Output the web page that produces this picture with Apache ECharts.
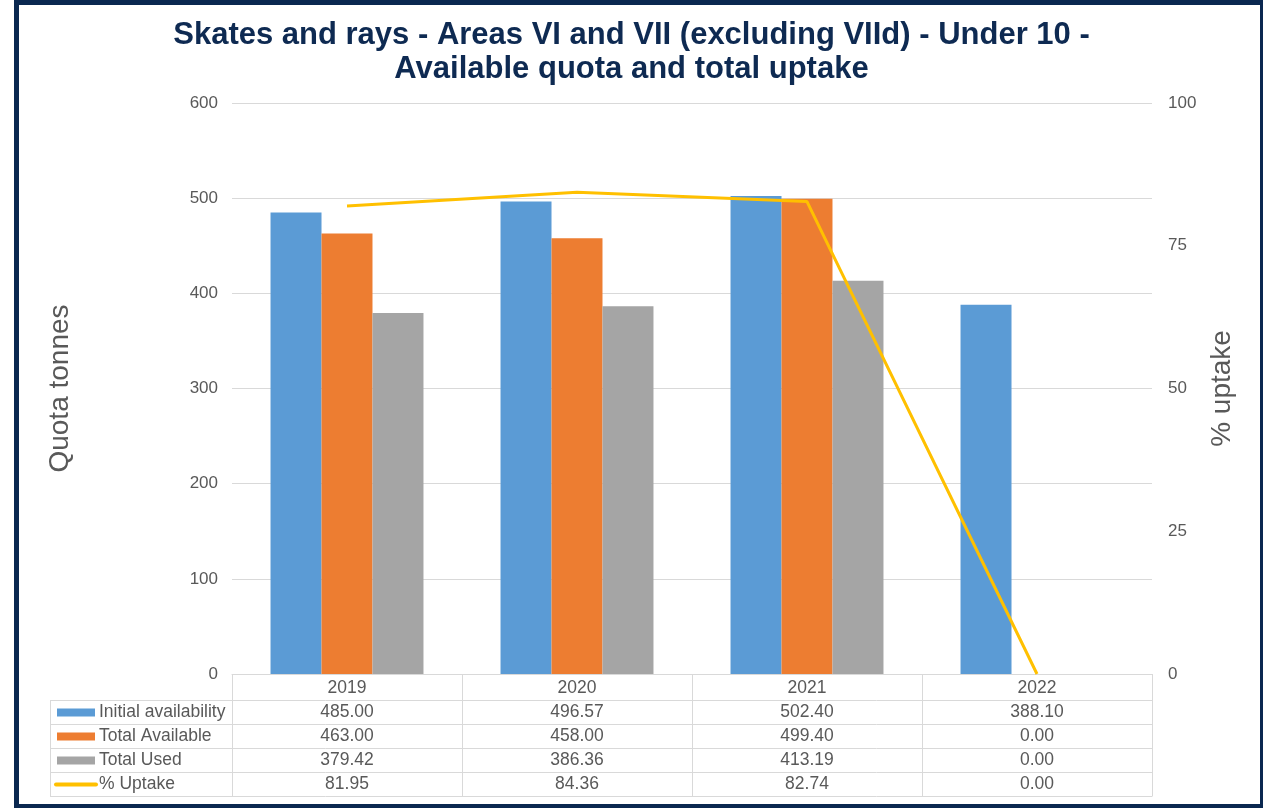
<!DOCTYPE html>
<html><head><meta charset="utf-8">
<script src="https://cdn.jsdelivr.net/npm/echarts@6/dist/echarts.min.js"></script>
<style>html,body{margin:0;padding:0;background:#fff}#c{width:1263px;height:808px}</style>
</head><body><div id="c"></div>
<script>
const categories = ['2019', '2020', '2021', '2022'];
const initialAvailability = [485.00, 496.57, 502.40, 388.10];
const totalAvailable = [463.00, 458.00, 499.40, 0.00];
const totalUsed = [379.42, 386.36, 413.19, 0.00];
const uptakePct = [81.95, 84.36, 82.74, 0.00];
const leftTicks = [0, 100, 200, 300, 400, 500, 600];
const rightTicks = [0, 25, 50, 75, 100];
const seriesNames = ['Initial availability', 'Total Available', 'Total Used', '% Uptake'];

const COLORS = ['#5B9BD5', '#ED7D31', '#A5A5A5', '#FFC000'];
const FONT = "'Liberation Sans', Arial, sans-serif";
const TXT = '#595959';
const GRID_LINE = '#D9D9D9';
const NAVY = '#0A2850';
const GRID = { left: 232, right: 111, top: 103, bottom: 134 };

const chart = echarts.init(document.getElementById('c'), null, { renderer: 'canvas' });

const option = {
  animation: false,
  backgroundColor: '#fff',
  title: {
    text: 'Skates and rays - Areas VI and VII (excluding VIId) - Under 10 -\nAvailable quota and total uptake',
    left: 'center', top: 13,
    textStyle: { fontFamily: FONT, fontSize: 31, fontWeight: 'bold', color: '#0E2A52', lineHeight: 34 }
  },
  grid: { left: GRID.left, right: GRID.right, top: GRID.top, bottom: GRID.bottom, containLabel: false },
  xAxis: {
    type: 'category', data: categories,
    axisLine: { show: true, lineStyle: { color: GRID_LINE, width: 1 } },
    axisTick: { show: false },
    axisLabel: { show: false }
  },
  yAxis: [
    {
      type: 'value', min: leftTicks[0], max: leftTicks[leftTicks.length - 1], interval: leftTicks[1] - leftTicks[0],
      name: 'Quota tonnes', nameLocation: 'middle', nameGap: 158, nameRotate: 90,
      nameTextStyle: { fontFamily: FONT, fontSize: 28, color: TXT },
      axisLine: { show: false }, axisTick: { show: false },
      axisLabel: { fontFamily: FONT, fontSize: 17, color: TXT, margin: 14 },
      splitLine: { lineStyle: { color: GRID_LINE, width: 1 } }
    },
    {
      type: 'value', min: rightTicks[0], max: rightTicks[rightTicks.length - 1], interval: rightTicks[1] - rightTicks[0],
      name: '% uptake', nameLocation: 'middle', nameGap: 56, nameRotate: 90,
      nameTextStyle: { fontFamily: FONT, fontSize: 28, color: TXT },
      axisLine: { show: false }, axisTick: { show: false },
      axisLabel: { fontFamily: FONT, fontSize: 17, color: TXT, margin: 16 },
      splitLine: { show: false }
    }
  ],
  series: [
    { name: seriesNames[0], type: 'bar', data: initialAvailability, itemStyle: { color: COLORS[0] }, barGap: '0%', barCategoryGap: '33.5%' },
    { name: seriesNames[1], type: 'bar', data: totalAvailable, itemStyle: { color: COLORS[1] }, barGap: '0%', barCategoryGap: '33.5%' },
    { name: seriesNames[2], type: 'bar', data: totalUsed, itemStyle: { color: COLORS[2] }, barGap: '0%', barCategoryGap: '33.5%' },
    { name: seriesNames[3], type: 'line', yAxisIndex: 1, data: uptakePct, showSymbol: false, symbol: 'none',
      lineStyle: { color: COLORS[3], width: 3 }, itemStyle: { color: COLORS[3] }, z: 5 }
  ]
};
chart.setOption(option);

// Build the data table beneath the plot from the axis scale
function buildTable() {
  const W = chart.getWidth(), H = chart.getHeight();
  const centers = categories.map((c) => chart.convertToPixel({ xAxisIndex: 0 }, c));
  const band = centers.length > 1 ? centers[1] - centers[0] : (W - GRID.left - GRID.right);
  const x0 = centers[0] - band / 2;
  const xEnd = centers[centers.length - 1] + band / 2;
  const yTop = chart.convertToPixel({ yAxisIndex: 0 }, 0);
  const headerH = 26, rowH = 24;
  const legendLeft = 50;
  const els = [];
  const line = (x1, y1, x2, y2) => els.push({
    type: 'line', silent: true, z: 10,
    shape: { x1: x1, y1: y1, x2: x2, y2: y2 },
    style: { stroke: GRID_LINE, lineWidth: 1 }
  });
  const yHeadBot = Math.round(yTop + headerH) + 0.5;
  const yBot = yHeadBot + rowH * 4;
  for (let i = 0; i <= categories.length; i++) {
    const x = Math.round(x0 + i * band) + 0.5;
    line(x, yTop, x, yBot);
  }
  line(legendLeft + 0.5, yHeadBot, legendLeft + 0.5, yBot);
  for (let r = 0; r <= 4; r++) {
    const y = yHeadBot + r * rowH;
    line(legendLeft, y, xEnd, y);
  }
  const txt = (x, y, s, align) => els.push({
    type: 'text', silent: true, z: 11, x: x, y: y,
    style: { text: s, fill: TXT, font: '17.5px ' + FONT, textAlign: align || 'center', textVerticalAlign: 'middle' }
  });
  categories.forEach((c, i) => txt(centers[i], yTop + headerH / 2 + 1, c));
  const rows = [initialAvailability, totalAvailable, totalUsed, uptakePct];
  rows.forEach((arr, r) => {
    const yc = yHeadBot + r * rowH + rowH / 2;
    arr.forEach((v, i) => txt(centers[i], yc, v.toFixed(2)));
    if (r < 3) {
      els.push({ type: 'rect', silent: true, z: 11, shape: { x: 57, y: yc - 4, width: 38, height: 8 }, style: { fill: COLORS[r] } });
    } else {
      els.push({ type: 'line', silent: true, z: 11, shape: { x1: 56, y1: yc, x2: 96, y2: yc }, style: { stroke: COLORS[r], lineWidth: 4, lineCap: 'round' } });
    }
    txt(99, yc, seriesNames[r], 'left');
  });
  els.push({ type: 'rect', silent: true, z: 20, shape: { x: 14, y: 0, width: 5, height: H }, style: { fill: NAVY } });
  els.push({ type: 'rect', silent: true, z: 20, shape: { x: 14, y: 0, width: W - 14, height: 5 }, style: { fill: NAVY } });
  els.push({ type: 'rect', silent: true, z: 20, shape: { x: W - 3, y: 0, width: 3, height: H }, style: { fill: NAVY } });
  els.push({ type: 'rect', silent: true, z: 20, shape: { x: 14, y: H - 4, width: W - 14, height: 4 }, style: { fill: NAVY } });
  chart.setOption({ graphic: { elements: els } });
}
buildTable();
</script>
</body></html>
